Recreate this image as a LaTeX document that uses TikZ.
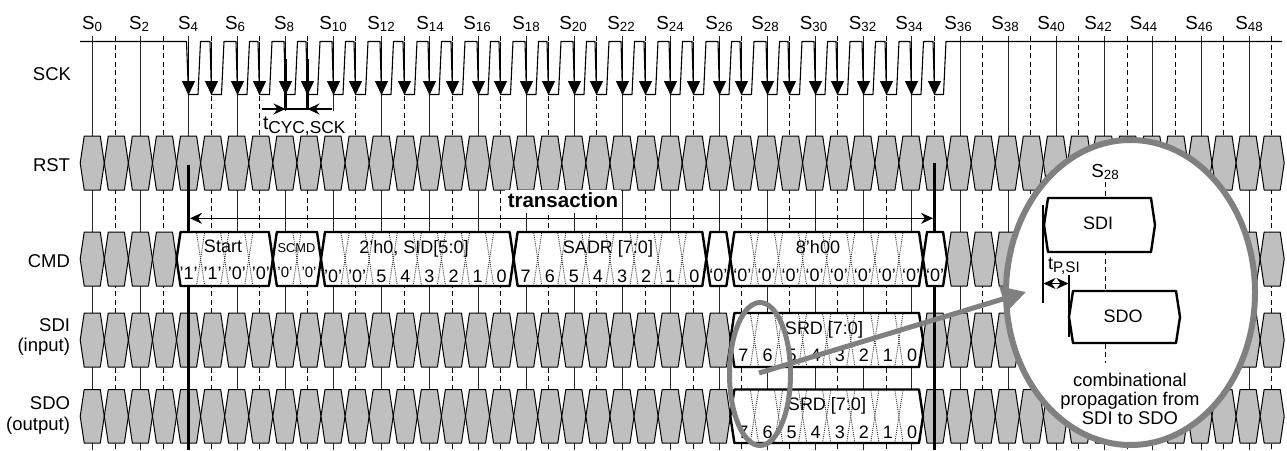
\documentclass[tikz,border=0pt]{standalone}
\usepackage{fontspec}
\setmainfont{Liberation Sans}
\usetikzlibrary{arrows.meta}
\definecolor{hexgray}{HTML}{BFBFBF}
\definecolor{ovalgray}{HTML}{808080}
\newcommand\fsz[1]{\fontsize{#1}{#1}\selectfont}
\newcommand\sname[1]{\fsz{18.8}S\raisebox{-2.5pt}{\fsz{13.3}#1}}
\newcommand\sq{\symbol{39}}
\newcommand\hexat[4]{(#1,{(#3+#4)/2}) -- ({#1+4},#3) -- ({#2-4},#3) -- (#2,{(#3+#4)/2}) -- ({#2-4},#4) -- ({#1+4},#4) -- cycle}
\newcommand\hexb[1]{(80.2+24.08*(#1))}
\newcommand\hexc[1]{(92.3+24.08*(#1))}
\tikzset{
  solidgrid/.style={line width=1.05pt,black!85},
  dashgrid/.style={line width=1.05pt,black,dash pattern=on 5pt off 3.5pt},
  sigline/.style={line width=1.1pt,black,line join=round},
  sckarrow/.style={line width=1.4pt,black,-{Triangle[length=14pt,width=13pt]},shorten >=-0.5pt},
  grayhex/.style={draw=black,line width=1pt,fill=hexgray,line join=round},
  whitehex/.style={draw=black,line width=2.4pt,fill=white,line join=round},
  xdots/.style={line width=0.9pt,black!80,dash pattern=on 1pt off 1.1pt},
  thickbar/.style={line width=2.4pt,black},
  lbl/.style={inner sep=0pt,outer sep=0pt,anchor=base,font=\fsz{18}},
  rowlbl/.style={lbl,anchor=base east,font=\fsz{18.5}},
  bit/.style={lbl,font=\fsz{18}},
  smallbit/.style={lbl,font=\fsz{15}},
  barbed/.style={line width=1.1pt,black,{Stealth[length=12pt,width=11pt,inset=4pt]}-{Stealth[length=12pt,width=11pt,inset=4pt]}},
  barbedr/.style={line width=1.1pt,black,-{Stealth[length=12pt,width=11pt,inset=4pt]}},
  oval/.style={draw=ovalgray},
  zoomarrow/.style={draw=ovalgray,line width=5pt,-{Triangle[length=24pt,width=25pt]}},
}
\begin{document}
\begin{tikzpicture}[x=1pt,y=-1pt]
\useasboundingbox (0,0) rectangle (1287,450);
% grid lines and S labels (snapped to pixel centres so that all lines look alike)
\foreach \k in {0,...,24}{
  \pgfmathsetmacro\ga{round(92+48.2*\k)+0.5}
  \pgfmathsetmacro\gb{round(114.5+48.2*\k)+0.5}
  \draw[solidgrid] (\ga,36) -- (\ga,450);
  \draw[dashgrid] (\gb,36) -- (\gb,450);
}
\foreach \n/\x in {0/92,2/139,4/188,6/235,8/284,10/333,12/381,14/430,16/477,18/526,20/573,22/621,24/670,26/719,28/765,30/813.5,32/862.5,34/909,36/958,38/1005,40/1051,42/1098,44/1143.5,46/1199,48/1249}{
  \node[lbl] (s\n) at (\x,29) {\sname{\n}};
}
% SCK waveform
\coordinate (sckstart) at (80,41.5);
\coordinate (sckend) at (1282,41.5);
\draw[sigline] (sckstart) -- (186.5,41.5) -- (188.5,94.5);
\foreach \k in {2,...,17}{
  \pgfmathsetmacro\ga{round(92+48.2*\k)+0.5}
  \pgfmathsetmacro\gb{round(114.5+48.2*\k)+0.5}
  \pgfmathsetmacro\gc{round(92+48.2*(\k+1))+0.5}
  \draw[sigline] (\ga,94.5) -- (\ga+9.5,94.5) -- (\ga+12,41.5) -- (\gb-1.5,41.5) -- (\gb,94.5);
  \ifnum\k<17
    \draw[sigline] (\gb,94.5) -- (\gb+10,94.5) -- (\gb+12.5,41.5) -- (\gc-1.5,41.5) -- (\gc,94.5);
  \fi
  \draw[sckarrow] (\ga,41.5) -- (\ga,94.5);
  \draw[sckarrow] (\gb,41.5) -- (\gb,94.5);
}
\draw[sigline] (934.5,94.5) -- (943.5,94.5) -- (946,41.5) -- (sckend);
\node[rowlbl] (lsck) at (71,80.5) {SCK};
\node[rowlbl] (lrst) at (70,171) {RST};
\node[rowlbl] (lcmd) at (70,267.5) {CMD};
\node[rowlbl] (lsdi) at (70,331.5) {SDI};
\node[rowlbl] (lsdiio) at (70,351) {(input)};
\node[rowlbl] (lsdo) at (70,409.5) {SDO};
\node[rowlbl] (lsdoio) at (70,430) {(output)};
% tCYC label (white ground hides the grid behind it)
\fill[white] (261.5,110.5) rectangle (346,135.5);
\coordinate (cycl) at (262,109);
\coordinate (cycm1) at (285.5,109);
\coordinate (cycm2) at (307.5,109);
\coordinate (cycr) at (332,109);
\draw[line width=3pt] (285.5,59) -- (285.5,110);
\draw[line width=3pt] (307.5,59) -- (307.5,110);
\draw[line width=1.1pt] (cycm1) -- (cycm2);
\draw[barbedr] (cycl) -- (cycm1);
\draw[barbedr] (cycr) -- (cycm2);
\node[lbl,anchor=base west] (tcyc) at (263,129) {\fsz{19.5}t\raisebox{-4pt}{\fsz{17.3}CYC,SCK}};
% gray data cells
\foreach \t/\b in {136/190,232/286,313/367,389.5/443}{
  \foreach \k in {0,...,49}{
    \pgfmathsetmacro\xl{\hexb{\k}}
    \pgfmathsetmacro\xr{\hexb{\k+1}}
    \draw[grayhex] \hexat{\xl}{\xr}{\t}{\b};
  }
}
% transaction span
\coordinate (tl0) at (188.5,165);
\coordinate (tl1) at (188.5,450);
\coordinate (tr0) at (934.5,163);
\coordinate (tr1) at (934.5,450);
\draw[thickbar] (tl0) -- (tl1);
\draw[thickbar] (tr0) -- (tr1);
\fill[white] (505,190) rectangle (621,213);
\draw[barbed] (190,218.3) -- (933,218.3);
\node[lbl,font=\bfseries\fsz{20.5}] (trans) at (563,207) {transaction};
% white data boxes
\foreach \t/\b/\ka/\kb in {232/286/4/8,232/286/8/10,232/286/10/18,232/286/18/26,232/286/26/27,232/286/27/35,232/286/35/36,313/367/27/35,389.5/443/27/35}{
  \pgfmathsetmacro\xl{\hexb{\ka}}
  \pgfmathsetmacro\xr{\hexb{\kb}}
  \draw[whitehex] \hexat{\xl}{\xr}{\t}{\b};
}
% dotted transitions inside the boxes
\foreach \t/\b/\klist in {232/286/{5,6,7,9,11,12,13,14,15,16,17,19,20,21,22,23,24,25,28,29,30,31,32,33,34},313/367/{28,29,30,31,32,33,34},389.5/443/{28,29,30,31,32,33,34}}{
  \foreach \k in \klist {
    \pgfmathsetmacro\xb{\hexb{\k}}
    \draw[xdots] ({\xb-4},\t+1) -- ({\xb+4},\b-1);
    \draw[xdots] ({\xb+4},\t+1) -- ({\xb-4},\b-1);
  }
}
% box texts
\node[lbl] (tstart) at (223,252.5) {Start};
\node[lbl,font=\fsz{12.8}] (tscmd) at (296.5,252) {SCMD};
\node[lbl] (tsid) at (414,253) {2\sq h0, SID[5:0]};
\node[lbl] (tsadr) at (608,253) {SADR [7:0]};
\node[lbl] (t8h) at (818,253) {8\sq h00};
\node[lbl] (tsrda) at (824,334) {SRD [7:0]};
\node[lbl] (tsrdb) at (827,410.5) {SRD [7:0]};
\foreach \k/\v in {4/1,5/1,6/0,7/0}{
  \pgfmathsetmacro\xc{\hexc{\k}}
  \node[bit] (c\k) at (\xc,279.5) {\sq\v\sq};
}
\foreach \k/\v in {8/0,9/0}{
  \pgfmathsetmacro\xc{\hexc{\k}}
  \node[smallbit] (c\k) at (\xc,277) {\sq\v\sq};
}
\foreach \k/\v in {10/\sq0\sq,11/\sq0\sq,12/5,13/4,14/3,15/2,16/1,17/0,18/7,19/6,20/5,21/4,22/3,23/2,24/1,25/0}{
  \pgfmathsetmacro\xc{\hexc{\k}}
  \node[bit] (c\k) at (\xc,282) {\v};
}
\foreach \k in {26,27,...,35}{
  \pgfmathsetmacro\xc{\hexc{\k}}
  \node[bit] (c\k) at (\xc,281.5) {‘0’};
}
\foreach \k/\v in {27/7,28/6,29/5,30/4,31/3,32/2,33/1,34/0}{
  \pgfmathsetmacro\xc{\hexc{\k}+1}
  \node[bit] (di\k) at (\xc,361.5) {\v};
  \node[bit] (do\k) at (\xc,438.5) {\v};
}
% small oval
\draw[oval,line width=5pt] (760,374) ellipse [x radius=30.5,y radius=71.5];
% big zoom circle
\draw[oval,line width=6pt,fill=white] (1130.5,292.5) ellipse [x radius=124.5,y radius=152.5];
% zoom arrow
\coordinate (za) at (759,373);
\coordinate (zb) at (1026,292);
\draw[zoomarrow] (za) -- (zb);
% content of the zoom
\node[lbl] (zs28) at (1105,177) {\sname{28}};
\coordinate (zg0) at (1105.5,182);
\coordinate (zg1) at (1105.5,363);
\draw[dashgrid] (zg0) -- (zg1);
\draw[whitehex] \hexat{1044}{1155}{198}{252};
\node[lbl] (zsdi) at (1098,229.5) {SDI};
\draw[whitehex] \hexat{1069}{1180}{291}{343};
\node[lbl] (zsdo) at (1123,322.5) {SDO};
\coordinate (zv1a) at (1043,205);
\coordinate (zv1b) at (1043,303);
\coordinate (zv2a) at (1069,275);
\coordinate (zv2b) at (1069,337);
\draw[sigline] (zv1a) -- (zv1b);
\draw[sigline] (zv2a) -- (zv2b);
\draw[barbed] (1043.5,283.5) -- (1068.5,283.5);
\node[lbl,anchor=base west] (ztp) at (1048,269) {\fsz{18}t\raisebox{-3.5pt}{\fsz{15.2}P,SI}};
\node[lbl,font=\fsz{18.4}] (zc1) at (1130,386) {combinational};
\node[lbl,font=\fsz{18.4}] (zc2) at (1130,405) {propagation from};
\node[lbl,font=\fsz{18.4}] (zc3) at (1130,424) {SDI to SDO};
\end{tikzpicture}
\end{document}
